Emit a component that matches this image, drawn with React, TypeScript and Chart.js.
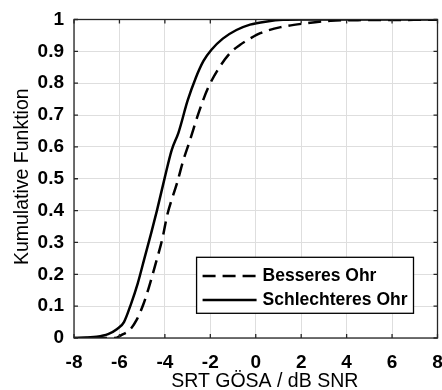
import React, { useEffect, useRef } from "react";
import { Chart, registerables } from "chart.js";

Chart.register(...registerables);

// ---- data ----
const seriesLabels = ["Besseres Ohr", "Schlechteres Ohr"];

const xBesseres = [-8, -6.2, -5.9, -5.55, -5.25, -4.95, -4.7, -4.4, -4.1, -3.9, -3.45, -3.2, -2.9, -2.5, -2.1, -1.6, -1.1, -0.7, -0.25, 0.2, 1.1, 2.2, 3.3, 4.5, 8];
const yBesseres = [0, 0, 0.01, 0.025, 0.056, 0.105, 0.16, 0.235, 0.315, 0.385, 0.49, 0.555, 0.62, 0.71, 0.785, 0.85, 0.897, 0.92, 0.94, 0.957, 0.976, 0.988, 0.996, 0.998, 0.999];

const xSchlechteres = [-8, -7, -6.5, -6.1, -5.8, -5.5, -5.2, -4.9, -4.6, -4.35, -4.0, -3.7, -3.4, -3.0, -2.65, -2.3, -1.95, -1.45, -0.85, -0.25, 0.5, 1.2, 2, 8];
const ySchlechteres = [0, 0.004, 0.012, 0.028, 0.05, 0.105, 0.17, 0.25, 0.33, 0.4, 0.505, 0.59, 0.645, 0.745, 0.815, 0.87, 0.905, 0.94, 0.967, 0.984, 0.994, 0.999, 1, 1];

const xTickValues = [-8, -6, -4, -2, 0, 2, 4, 6, 8];
const xTickLabels = ["-8", "-6", "-4", "-2", "0", "2", "4", "6", "8"];
const yTickLabels = ["0", "0.1", "0.2", "0.3", "0.4", "0.5", "0.6", "0.7", "0.8", "0.9", "1"];

const xTitle = "SRT GÖSA / dB SNR";
const yTitle = "Kumulative Funktion";

const FONT = "'Liberation Sans', Arial, sans-serif";

const toPoints = (xs: number[], ys: number[]) => xs.map((x, i) => ({ x, y: ys[i] }));

const framePlugin = {
  id: "frameAndLegend",
  afterDraw(chart: any) {
    const { ctx, chartArea: a, scales } = chart;
    ctx.save();
    // axes box
    ctx.strokeStyle = "#262626";
    ctx.lineWidth = 1.3;
    ctx.strokeRect(a.left, a.top, a.right - a.left, a.bottom - a.top);
    // inner tick marks
    const tl = 4;
    ctx.beginPath();
    scales.x.ticks.forEach((t: any) => {
      const px = scales.x.getPixelForValue(t.value);
      ctx.moveTo(px, a.bottom);
      ctx.lineTo(px, a.bottom - tl);
      ctx.moveTo(px, a.top);
      ctx.lineTo(px, a.top + tl);
    });
    scales.y.ticks.forEach((t: any) => {
      const py = scales.y.getPixelForValue(t.value);
      ctx.moveTo(a.left, py);
      ctx.lineTo(a.left + tl, py);
      ctx.moveTo(a.right, py);
      ctx.lineTo(a.right - tl, py);
    });
    ctx.stroke();

    // axis titles
    ctx.fillStyle = "#000";
    ctx.font = "19.5px " + FONT;
    ctx.textAlign = "center";
    ctx.textBaseline = "middle";
    ctx.fillText(xTitle, (a.left + a.right) / 2 + 9, 382);
    ctx.save();
    ctx.translate(23, (a.top + a.bottom) / 2 - 2);
    ctx.rotate(-Math.PI / 2);
    ctx.fillText(yTitle, 0, 0);
    ctx.restore();

    // legend box
    ctx.font = "bold 17.5px " + FONT;
    const datasets = chart.data.datasets;
    let maxW = 0;
    datasets.forEach((d: any) => {
      maxW = Math.max(maxW, ctx.measureText(d.label).width);
    });
    const sampleLen = 54;
    const boxW = 6 + sampleLen + 6 + maxW + 6;
    const boxH = 56;
    const boxRight = a.right - 24;
    const boxBottom = a.bottom - 24.7;
    const bx = boxRight - boxW;
    const by = boxBottom - boxH;
    ctx.fillStyle = "#ffffff";
    ctx.fillRect(bx, by, boxW, boxH);
    ctx.strokeStyle = "#000";
    ctx.lineWidth = 1.3;
    ctx.strokeRect(bx, by, boxW, boxH);
    datasets.forEach((d: any, i: number) => {
      const cy = by + 18.7 + i * 24;
      ctx.beginPath();
      ctx.setLineDash(d.borderDash || []);
      ctx.lineWidth = d.borderWidth;
      ctx.strokeStyle = d.borderColor;
      ctx.moveTo(bx + 6, cy);
      ctx.lineTo(bx + 6 + sampleLen, cy);
      ctx.stroke();
      ctx.setLineDash([]);
      ctx.fillStyle = "#000";
      ctx.textAlign = "left";
      ctx.textBaseline = "middle";
      ctx.fillText(d.label, bx + 6 + sampleLen + 6, cy);
    });
    ctx.restore();
  },
};

export default function App() {
  const ref = useRef<HTMLCanvasElement | null>(null);
  useEffect(() => {
    if (!ref.current) return;
    const chart = new Chart(ref.current, {
      type: "line",
      data: {
        datasets: [
          {
            label: seriesLabels[0],
            data: toPoints(xBesseres, yBesseres),
            borderColor: "#000",
            borderWidth: 2.5,
            borderDash: [13, 7],
            pointRadius: 0,
            cubicInterpolationMode: "monotone",
            fill: false,
          },
          {
            label: seriesLabels[1],
            data: toPoints(xSchlechteres, ySchlechteres),
            borderColor: "#000",
            borderWidth: 2.5,
            pointRadius: 0,
            cubicInterpolationMode: "monotone",
            fill: false,
          },
        ],
      },
      options: {
        responsive: false,
        animation: false,
        devicePixelRatio: 1,
        layout: { padding: { top: 19.5, right: 4.5, left: 0, bottom: 0 } },
        plugins: { legend: { display: false }, tooltip: { enabled: false } },
        scales: {
          x: {
            type: "linear",
            min: -8,
            max: 8,
            afterFit: (s: any) => {
              s.height = 52;
              s.paddingLeft = 0;
              s.paddingRight = 0;
            },
            afterBuildTicks: (s: any) => {
              s.ticks = xTickValues.map((v) => ({ value: v }));
            },
            ticks: {
              color: "#000",
              font: { family: FONT, size: 19, weight: "bold" },
              padding: 13,
              maxRotation: 0,
              callback: (v: any) => {
                const i = xTickValues.indexOf(Math.round(Number(v)));
                return i >= 0 ? xTickLabels[i] : "";
              },
            },
            grid: { color: "#dedede", lineWidth: 1, drawTicks: false },
            border: { display: false },
            title: { display: false },
          },
          y: {
            type: "linear",
            min: 0,
            max: 1,
            afterFit: (s: any) => {
              s.width = 74;
              s.paddingTop = 0;
              s.paddingBottom = 0;
            },
            afterBuildTicks: (s: any) => {
              s.ticks = yTickLabels.map((_, i) => ({ value: i / 10 }));
            },
            ticks: {
              color: "#000",
              font: { family: FONT, size: 19, weight: "bold" },
              padding: 10,
              callback: (v: any) => {
                const i = Math.round(Number(v) * 10);
                return yTickLabels[i] ?? "";
              },
            },
            grid: { color: "#dedede", lineWidth: 1, drawTicks: false },
            border: { display: false },
            title: { display: false },
          },
        },
      },
      plugins: [framePlugin],
    } as any);
    return () => chart.destroy();
  }, []);

  return (
    <div style={{ position: "absolute", left: 0, top: 0, width: 442, height: 390, background: "#fff" }}>
      <canvas ref={ref} width={442} height={390} />
    </div>
  );
}
